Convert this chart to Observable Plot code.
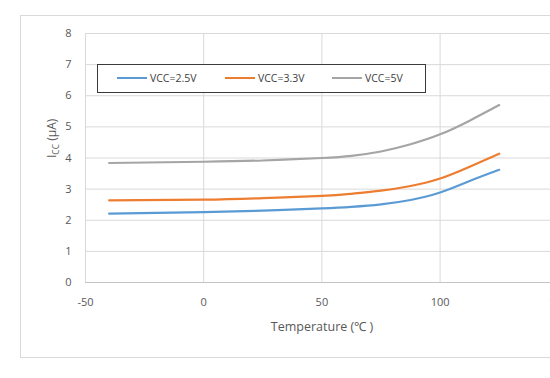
<!DOCTYPE html>
<html>
<head>
<meta charset="utf-8">
<script src="https://cdn.jsdelivr.net/npm/d3@7"></script>
<script src="https://cdn.jsdelivr.net/npm/@observablehq/plot@0.6"></script>
<style>
  html, body { margin: 0; padding: 0; background: #fff; overflow: hidden; }
  #wrap { position: relative; width: 550px; height: 378px; overflow: hidden; font-family: "Open Sans", sans-serif; }
  #frame { position: absolute; left: 20px; top: 15px; width: 600px; height: 343px; border: 1px solid #d9d9d9; box-sizing: border-box; }
  #chart { position: absolute; left: 0; top: 0; }
  #legend { position: absolute; left: 97px; top: 64px; width: 329px; height: 29px; box-sizing: border-box; border: 1.5px solid #3a3a3a; background: #fff; }
  .item { position: absolute; top: 0; height: 26px; display: flex; align-items: center; font-size: 10.5px; color: #404040; white-space: nowrap; }
  .sw { width: 30px; height: 2px; margin-right: 3px; }
</style>
</head>
<body>
<div id="wrap">
  <div id="frame"></div>
  <div id="chart"></div>
  <div id="legend"></div>
</div>
<script>
const temps = [-40, 0, 25, 50, 62.5, 75, 87.5, 100, 112.5, 125];
const vcc25 = [2.21, 2.26, 2.31, 2.38, 2.43, 2.51, 2.65, 2.89, 3.26, 3.62];
const vcc33 = [2.64, 2.66, 2.71, 2.78, 2.85, 2.95, 3.10, 3.34, 3.72, 4.14];
const vcc5  = [3.84, 3.88, 3.92, 4.00, 4.07, 4.21, 4.44, 4.76, 5.20, 5.70];
const seriesNames = ["VCC=2.5V", "VCC=3.3V", "VCC=5V"];
const seriesColors = ["#5b9bd5", "#ed7d31", "#a5a5a5"];
const xTicks = [-50, 0, 50, 100, 150];
const yTicks = [0, 1, 2, 3, 4, 5, 6, 7, 8];
const xTitle = "Temperature (℃ )";
const yTitle = "ICC (μA)";

const seriesValues = [vcc25, vcc33, vcc5];
const rows = [];
seriesValues.forEach((vals, i) => {
  vals.forEach((v, j) => rows.push({series: seriesNames[i], t: temps[j], v}));
});

const labelFill = "#595959";
const chart = Plot.plot({
  width: 550,
  height: 378,
  marginLeft: 85,
  marginRight: 0,
  marginTop: 33,
  marginBottom: 96,
  style: {fontFamily: "'Open Sans', sans-serif", background: "transparent"},
  x: {domain: [-50, 146.7], axis: null},
  y: {domain: [0, 8], axis: null},
  color: {domain: seriesNames, range: seriesColors},
  marks: [
    Plot.ruleY(yTicks.filter(d => d > 0), {stroke: "#d9d9d9", strokeWidth: 1}),
    Plot.ruleX(xTicks, {stroke: "#d9d9d9", strokeWidth: 1}),
    Plot.ruleY([0], {stroke: "#c4c4c4", strokeWidth: 1.2}),
    Plot.line(rows, {x: "t", y: "v", z: "series", stroke: "series", strokeWidth: 2.2, curve: "natural"}),
    Plot.text(yTicks, {x: xTicks[0], y: d => d, text: d => String(d), dx: -14, textAnchor: "end", fill: labelFill, fontSize: 11}),
    Plot.text(xTicks, {x: d => d, y: yTicks[0], text: d => String(d), dy: 20, fill: labelFill, fontSize: 11}),
    Plot.text([xTitle], {frameAnchor: "bottom", dx: 4, dy: 48, text: d => d, fill: labelFill, fontSize: 12.5}),
    Plot.text([yTitle], {frameAnchor: "left", dx: -33, dy: 0, rotate: -90, text: d => d, fill: labelFill, fontSize: 12})
  ]
});
document.getElementById("chart").appendChild(chart);

// subscript for the y title
d3.select(chart).selectAll("text").filter(function() { return this.textContent === yTitle; })
  .each(function() {
    const t = d3.select(this);
    t.text(null);
    t.append("tspan").text("I");
    t.append("tspan").attr("dy", 3).attr("font-size", 8.5).text("CC");
    t.append("tspan").attr("dy", -3).text(" (μA)");
  });

// legend
const legend = d3.select("#legend");
const offsets = [19, 127, 234];
seriesNames.forEach((name, i) => {
  const it = legend.append("div").attr("class", "item").style("left", offsets[i] + "px");
  it.append("div").attr("class", "sw").style("background", seriesColors[i]);
  it.append("span").text(name);
});
</script>
</body>
</html>
